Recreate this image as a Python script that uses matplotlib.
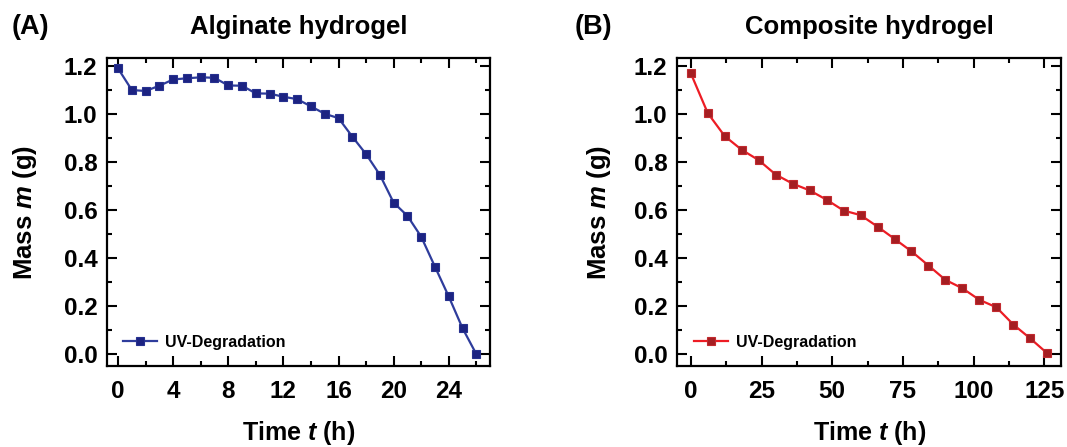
import numpy as np
import matplotlib
matplotlib.use('Agg')
import matplotlib.pyplot as plt
from matplotlib.ticker import MultipleLocator, FormatStrFormatter

plt.rcParams['font.family'] = 'Liberation Sans'
plt.rcParams['font.weight'] = 'bold'
plt.rcParams['mathtext.fontset'] = 'custom'
plt.rcParams['mathtext.it'] = 'Liberation Sans:italic:bold'
plt.rcParams['mathtext.rm'] = 'Liberation Sans:bold'

# alginate hydrogel, hourly
alg_t = list(range(0, 27))
alg_m = [1.19, 1.10, 1.096, 1.118, 1.144, 1.149, 1.153, 1.151, 1.119, 1.118,
         1.086, 1.085, 1.072, 1.062, 1.032, 1.001, 0.983, 0.906, 0.833, 0.747,
         0.631, 0.576, 0.489, 0.364, 0.240, 0.108, 0.0]

# composite hydrogel, every 6 h
comp_t = list(range(0, 127, 6))
comp_m = [1.170, 1.004, 0.908, 0.851, 0.808, 0.748, 0.710, 0.682, 0.643, 0.598,
          0.579, 0.531, 0.480, 0.428, 0.369, 0.309, 0.274, 0.226, 0.195, 0.123,
          0.065, 0.003]

panels = [
    dict(t=alg_t, m=alg_m, title='Alginate hydrogel', tag='(A)',
         line='#2E3C9C', face='#1C2382', edge='#26318F',
         xlim=(-0.8, 27), xmaj=4, xmin=2, rect=[0.1003, 0.181, 0.359, 0.689],
         tagx=0.011, ylab_x=-0.178, leg_x=0.042),
    dict(t=comp_t, m=comp_m, title='Composite hydrogel', tag='(B)',
         line='#ED1C24', face='#A51E22', edge='#C22A2F',
         xlim=(-4.75, 131), xmaj=25, xmin=12.5, rect=[0.6348, 0.181, 0.360, 0.689],
         tagx=0.539, ylab_x=-0.168, leg_x=0.044),
]

fig = plt.figure(figsize=(10.67, 4.47), dpi=100)

for p in panels:
    ax = fig.add_axes(p['rect'])
    ax.plot(p['t'], p['m'], '-s', color=p['line'], lw=1.6, ms=6.2,
            markerfacecolor=p['face'], markeredgecolor=p['edge'],
            markeredgewidth=0.8, label='UV-Degradation')
    ax.set_xlim(*p['xlim'])
    ax.set_ylim(-0.05, 1.233)
    ax.xaxis.set_major_locator(MultipleLocator(p['xmaj']))
    ax.xaxis.set_minor_locator(MultipleLocator(p['xmin']))
    ax.yaxis.set_major_locator(MultipleLocator(0.2))
    ax.yaxis.set_minor_locator(MultipleLocator(0.1))
    ax.yaxis.set_major_formatter(FormatStrFormatter('%.1f'))
    ax.tick_params(which='both', direction='in', top=True, right=True, width=1.5)
    ax.tick_params(which='major', length=7, labelsize=17.5)
    ax.tick_params(axis='x', which='major', pad=10)
    ax.tick_params(axis='y', which='major', pad=7)
    ax.tick_params(which='minor', length=3.5)
    for s in ax.spines.values():
        s.set_linewidth(1.6)
    for lab in ax.get_xticklabels() + ax.get_yticklabels():
        lab.set_fontweight('bold')

    ax.set_xlabel(r'Time $\mathit{t}$ (h)', fontsize=18, fontweight='bold')
    ax.set_ylabel(r'Mass $\mathit{m}$ (g)', fontsize=18.5, fontweight='bold')
    ax.xaxis.set_label_coords(0.5, -0.172)
    ax.yaxis.set_label_coords(p['ylab_x'], 0.5)
    ax.set_title(p['title'], fontsize=18.5, fontweight='bold', pad=17)
    fig.text(p['tagx'], 0.94, p['tag'], fontsize=19.5, fontweight='bold', va='center')

    ax.legend(loc='center left', bbox_to_anchor=(p['leg_x'], 0.077), frameon=False,
              borderpad=0, borderaxespad=0, handlelength=2.1, handletextpad=0.5,
              prop=dict(size=11.5, weight='bold'))

fig.savefig('out.png', dpi=100)
